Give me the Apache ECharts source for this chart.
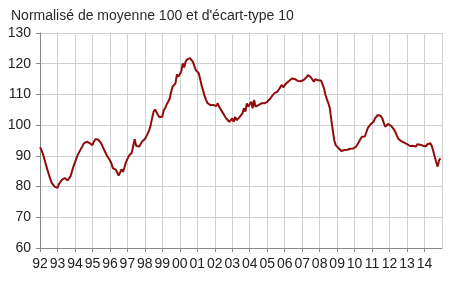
<!DOCTYPE html>
<html>
<head>
<meta charset="utf-8">
<script src="https://cdn.jsdelivr.net/npm/echarts@6/dist/echarts.min.js"></script>
<style>html,body{margin:0;padding:0;background:#fff}#c{width:450px;height:291px}</style>
</head>
<body>
<div id="c"></div>
<script>
const title = "Normalisé de moyenne 100 et d'écart-type 10";
const startYear = 1992;
const endYear = 2015;
// Monthly values, Jan 1992 – Dec 2014
const v1992 = [92.8, 91.9, 90.6, 89.0, 87.3, 85.6, 84.1, 82.6, 81.2, 80.6, 80.0, 79.5];
const v1993 = [79.6, 80.8, 81.5, 82.2, 82.6, 82.8, 83.0, 82.0, 81.8, 83.4, 85.0, 86.6];
const v1994 = [87.9, 89.2, 90.4, 91.3, 92.2, 93.0, 94.0, 93.6, 94.6, 95.1, 94.2, 93.6];
const v1995 = [93.5, 94.6, 95.4, 94.8, 95.3, 94.8, 94.1, 93.0, 92.0, 91.0, 90.0, 89.3];
const v1996 = [88.5, 87.6, 86.0, 85.7, 85.5, 85.4, 83.6, 84.6, 85.6, 84.8, 86.3, 87.9];
const v1997 = [88.4, 90.0, 90.5, 91.0, 91.5, 95.4, 93.3, 93.0, 93.0, 93.8, 94.6, 95.2];
const v1998 = [95.5, 96.3, 97.3, 98.4, 100.0, 102.3, 104.4, 105.1, 104.6, 103.3, 102.6, 102.2];
const v1999 = [102.8, 104.9, 105.6, 106.8, 107.6, 108.6, 110.8, 112.5, 112.8, 113.6, 116.5, 115.8];
const v2000 = [115.9, 117.5, 120.1, 118.8, 120.7, 121.4, 121.5, 121.8, 121.2, 120.6, 119.2, 117.9];
const v2001 = [117.4, 116.9, 114.9, 112.8, 111.3, 109.5, 108.2, 107.2, 106.6, 106.5, 106.3, 106.6];
const v2002 = [106.5, 106.2, 107.1, 106.0, 105.7, 104.4, 103.6, 102.8, 102.1, 101.7, 101.1, 101.3];
const v2003 = [102.2, 101.1, 102.7, 101.6, 101.7, 102.6, 103.0, 103.8, 105.5, 104.4, 107.1, 106.0];
const v2004 = [106.0, 107.6, 105.5, 108.2, 106.0, 106.6, 106.5, 106.9, 107.1, 107.0, 107.1, 107.2];
const v2005 = [107.6, 108.2, 108.6, 109.3, 109.6, 110.4, 110.5, 110.9, 111.6, 112.2, 113.1, 112.3];
const v2006 = [112.0, 113.6, 113.1, 114.4, 114.8, 115.2, 115.3, 115.0, 114.7, 114.4, 114.1, 114.3];
const v2007 = [114.1, 114.7, 114.7, 115.6, 116.3, 116.0, 115.6, 115.2, 114.1, 115.0, 115.2, 114.6];
const v2008 = [114.7, 114.5, 114.1, 112.0, 109.8, 108.4, 107.1, 105.5, 101.7, 98.4, 95.1, 93.5];
const v2009 = [93.0, 92.5, 92.1, 91.6, 91.3, 91.9, 92.4, 92.0, 91.9, 92.3, 92.0, 92.4];
const v2010 = [92.6, 93.0, 93.0, 94.6, 95.5, 96.2, 96.0, 96.3, 97.6, 99.0, 99.5, 100.3];
const v2011 = [100.8, 101.1, 102.2, 102.6, 103.3, 103.6, 103.0, 102.2, 100.8, 99.5, 100.0, 100.4];
const v2012 = [100.4, 99.8, 99.5, 98.6, 97.8, 96.6, 95.6, 95.1, 94.8, 94.6, 94.3, 93.9];
const v2013 = [93.8, 93.5, 93.2, 93.0, 93.3, 93.5, 93.0, 93.8, 94.0, 93.6, 93.2, 93.3];
const v2014 = [93.0, 93.1, 93.8, 93.6, 94.1, 93.2, 91.6, 89.7, 88.0, 86.5, 88.6, 89.2];
const yTicks = [60, 70, 80, 90, 100, 110, 120, 130];

const values = [].concat(v1992, v1993, v1994, v1995, v1996, v1997, v1998, v1999,
  v2000, v2001, v2002, v2003, v2004, v2005, v2006, v2007, v2008, v2009, v2010,
  v2011, v2012, v2013, v2014);
const data = values.map((v, i) => [startYear + i / 12, v]);

const chart = echarts.init(document.getElementById('c'), null, {renderer: 'canvas'});
chart.setOption({
  animation: false,
  backgroundColor: '#fff',
  title: {
    text: title, left: 6, top: 4,
    textStyle: {fontFamily: 'Liberation Sans, Arial, sans-serif', fontSize: 14, fontWeight: 'normal', color: '#2a2a2a'}
  },
  grid: {left: 40, right: 8, top: 33, bottom: 43, containLabel: false},
  xAxis: {
    type: 'value', min: startYear, max: endYear, interval: 1,
    axisLine: {show: true, lineStyle: {color: '#888', width: 1}},
    axisTick: {show: true, length: 4, lineStyle: {color: '#888'}},
    splitLine: {show: true, lineStyle: {color: '#d0d0d0', width: 1}},
    axisLabel: {
      margin: 9, color: '#222', fontSize: 14, fontFamily: 'Liberation Sans, Arial, sans-serif',
      showMaxLabel: false,
      formatter: v => String(v % 100).padStart(2, '0')
    }
  },
  yAxis: {
    type: 'value', min: yTicks[0], max: yTicks[yTicks.length - 1], interval: 10,
    axisLine: {show: true, lineStyle: {color: '#888', width: 1}},
    axisTick: {show: true, length: 4, lineStyle: {color: '#888'}},
    splitLine: {show: true, lineStyle: {color: '#d0d0d0', width: 1}},
    axisLabel: {margin: 9, color: '#222', fontSize: 14, fontFamily: 'Liberation Sans, Arial, sans-serif'}
  },
  series: [{
    type: 'line', data: data, showSymbol: false,
    lineStyle: {color: '#900c0c', width: 2},
    itemStyle: {color: '#900c0c'}
  }]
});
</script>
</body>
</html>
